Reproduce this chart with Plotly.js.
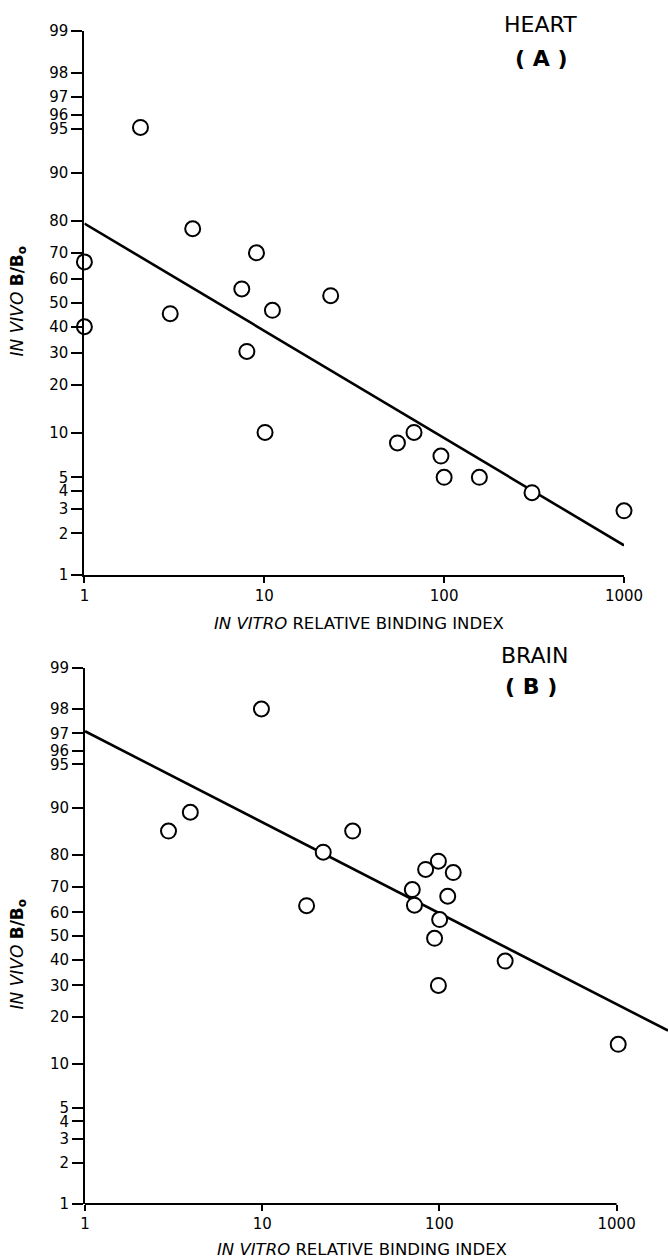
<!DOCTYPE html>
<html><head><meta charset="utf-8">
<script src="https://cdn.plot.ly/plotly-3.0.1.min.js"></script>
<style>html,body{margin:0;padding:0;background:#fff}</style>
</head><body><div id="chart" style="width:668px;height:1260px"></div>
<script>
// ---- data (percent values for in vivo B/Bo; in vitro relative binding index) ----
const heartX = [1, 1, 2.05, 4.0, 3.0, 7.5, 9.05, 8.0, 10.1, 11.1, 23.4, 55, 68, 96, 100, 157, 308, 1000];
const heartY = [66.7, 40.1, 95.1, 77.8, 45.5, 55.9, 70.0, 30.6, 10.1, 46.9, 53.1, 8.6, 10.1, 7.0, 5.0, 5.0, 3.9, 2.9];
const heartFitX = [1, 1000];
const heartFitY = [79.3, 1.64];

const brainX = [2.96, 3.93, 9.9, 17.8, 22.1, 32.4, 70.3, 72.3, 83.6, 98.7, 119.7, 111.4, 100.3, 93.9, 98.7, 235, 1021];
const brainY = [85.8, 89.3, 98.0, 62.7, 80.8, 85.8, 68.9, 62.9, 75.8, 78.3, 74.8, 66.4, 57.0, 49.0, 30.0, 39.4, 13.5];
const brainFitX = [1, 1950];
const brainFitY = [97.1, 16.5];

const yTicks = [1, 2, 3, 4, 5, 10, 20, 30, 40, 50, 60, 70, 80, 90, 95, 96, 97, 98, 99];
const xTicks = [1, 10, 100, 1000];

const panelLabels = ["HEART", "( A )", "BRAIN", "( B )"];
const xTitle = "<i>IN VITRO</i> RELATIVE BINDING INDEX";
const yTitle = "<i>IN VIVO</i> <b>B/B<sub>o</sub></b>";

// probability (logit) scale for the y axes
const logit = p => Math.log((p / 100) / (1 - p / 100));

const FONT = "DejaVu Sans, Arial, sans-serif";
const W = 668, H = 1260;
const px = v => v / W;
const py = v => 1 - v / H;

const fitLine = (x, y, xa, ya) => ({
  x: x, y: y.map(logit), xaxis: xa, yaxis: ya, mode: "lines",
  line: {color: "#000", width: 2.6}, hoverinfo: "skip"
});
const pts = (x, y, xa, ya) => ({
  x: x, y: y.map(logit), xaxis: xa, yaxis: ya, mode: "markers", cliponaxis: false,
  marker: {symbol: "circle", size: 15, color: "#fff", line: {color: "#000", width: 2}}
});

const traces = [
  fitLine(heartFitX, heartFitY, "x", "y"),
  pts(heartX, heartY, "x", "y"),
  fitLine(brainFitX, brainFitY, "x2", "y2"),
  pts(brainX, brainY, "x2", "y2")
];

const yAxisBase = {
  range: [logit(yTicks[0]), logit(yTicks[yTicks.length - 1])],
  tickmode: "array", tickvals: yTicks.map(logit), ticktext: yTicks.map(String),
  showline: true, linewidth: 2, linecolor: "#000",
  ticks: "outside", ticklen: 11, tickwidth: 2, tickcolor: "#000",
  tickfont: {family: FONT, size: 15, color: "#000"},
  showgrid: false, zeroline: false, fixedrange: true
};
const xAxisBase = {
  type: "log",
  tickmode: "array", tickvals: xTicks, ticktext: xTicks.map(String),
  ticks: "outside", ticklen: 6, tickwidth: 2, tickcolor: "#000",
  tickfont: {family: FONT, size: 15, color: "#000"},
  showgrid: false, zeroline: false, fixedrange: true
};

const lx = Math.log10;
const layout = {
  width: W, height: H, autosize: false,
  margin: {l: 0, r: 0, t: 0, b: 0, pad: 0},
  paper_bgcolor: "#fff", plot_bgcolor: "rgba(0,0,0,0)",
  showlegend: false,
  xaxis: Object.assign({}, xAxisBase, {
    domain: [px(84.4), px(624)], anchor: "y",
    range: [lx(xTicks[0]), lx(xTicks[3])],
    showline: true, linewidth: 2, linecolor: "#000"
  }),
  yaxis: Object.assign({}, yAxisBase, {domain: [py(575), py(31)], anchor: "x"}),
  xaxis2: Object.assign({}, xAxisBase, {
    domain: [px(85), 1], anchor: "y2",
    range: [lx(xTicks[0]), 3.29],
    showline: false
  }),
  yaxis2: Object.assign({}, yAxisBase, {domain: [py(1204), py(668)], anchor: "x2"}),
  shapes: [{
    type: "line", xref: "x2", yref: "y2 domain",
    x0: xTicks[0], x1: xTicks[3], y0: 0, y1: 0,
    line: {color: "#000", width: 2}, layer: "above"
  }],
  annotations: [
    {text: panelLabels[0], x: px(540), y: py(24), font: {family: FONT, size: 22}},
    {text: "<b>" + panelLabels[1] + "</b>", x: px(541), y: py(58), font: {family: FONT, size: 22}},
    {text: panelLabels[2], x: px(534), y: py(655), font: {family: FONT, size: 22}},
    {text: "<b>" + panelLabels[3] + "</b>", x: px(531), y: py(687), font: {family: FONT, size: 22}},
    {text: xTitle, x: px(359), y: py(623), font: {family: FONT, size: 16.5}},
    {text: xTitle, x: px(362), y: py(1249), font: {family: FONT, size: 16.5}},
    {text: yTitle, x: px(17.5), y: py(301), textangle: -90, font: {family: FONT, size: 17}},
    {text: yTitle, x: px(17.5), y: py(954), textangle: -90, font: {family: FONT, size: 17}}
  ].map(a => Object.assign({xref: "paper", yref: "paper", showarrow: false,
                            xanchor: "center", yanchor: "middle"}, a,
                           {font: Object.assign({color: "#000"}, a.font)}))
};

Plotly.newPlot("chart", traces, layout, {displayModeBar: false, staticPlot: true});
</script>
</body></html>
